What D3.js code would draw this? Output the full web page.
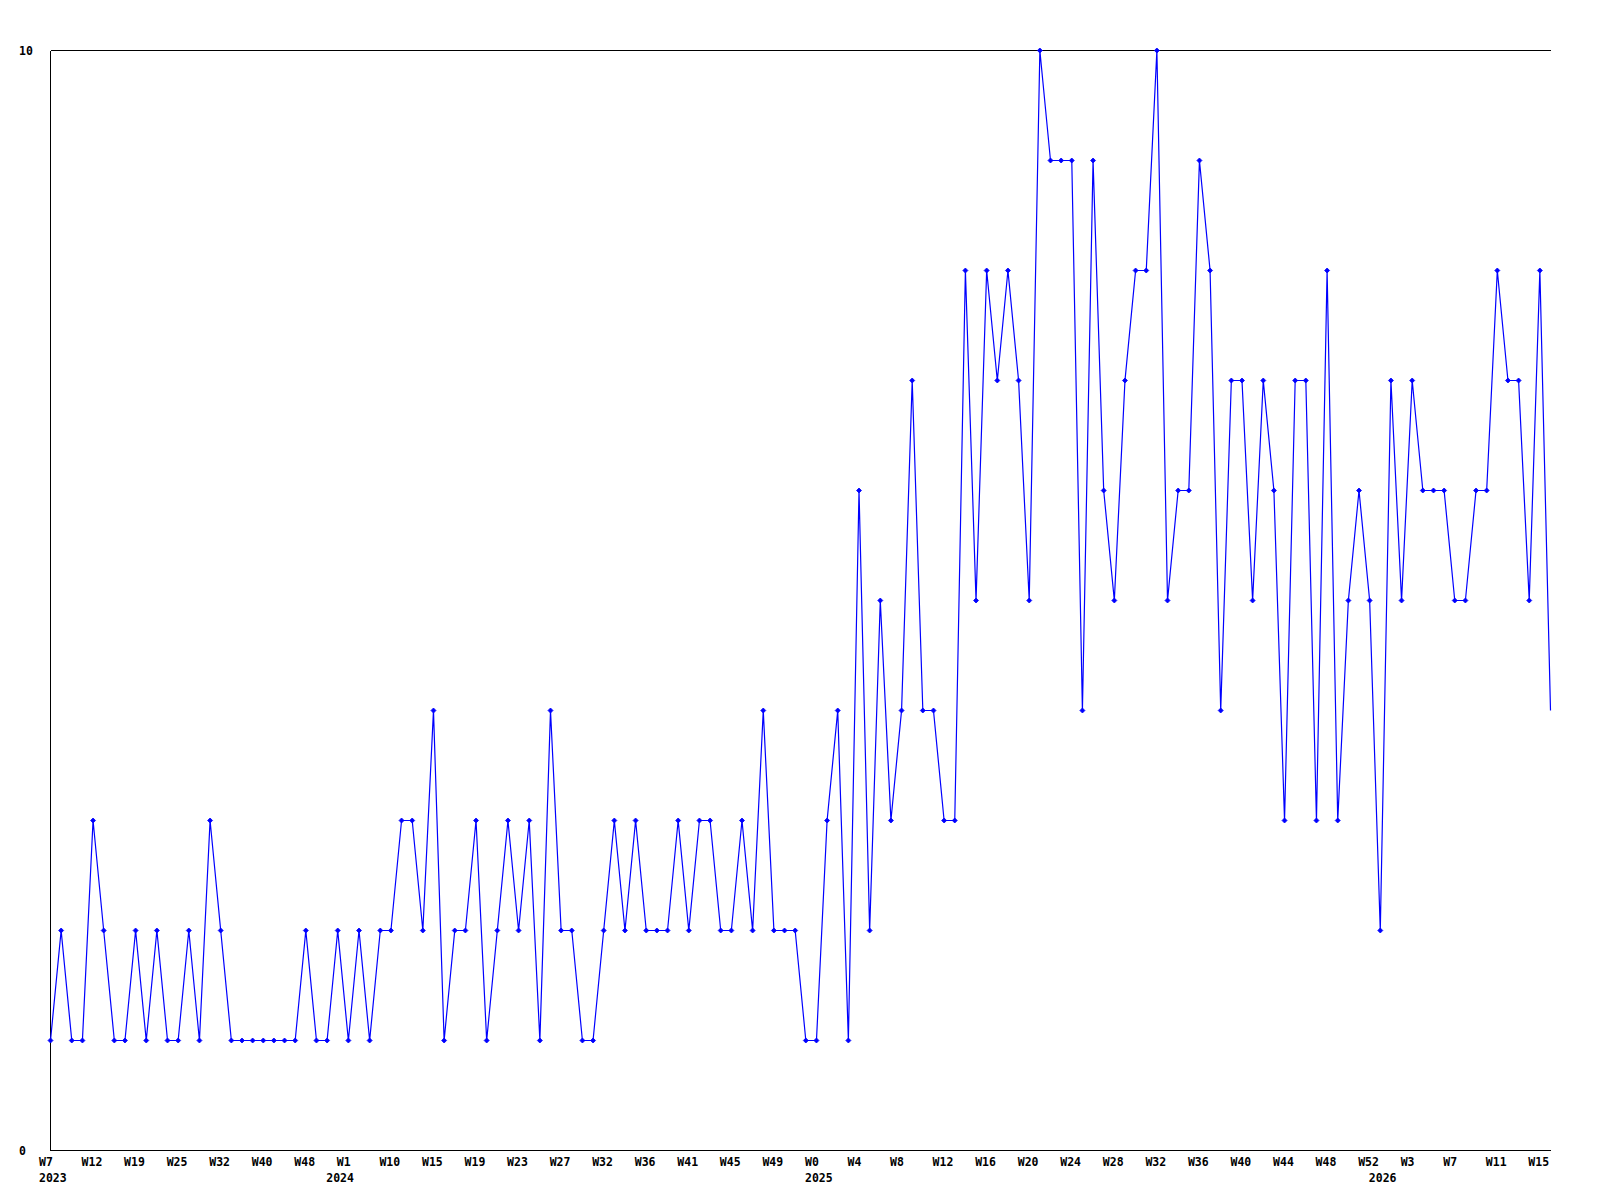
<!DOCTYPE html>
<html>
<head>
<meta charset="utf-8">
<script src="https://cdn.jsdelivr.net/npm/d3@7"></script>
<style>
  html, body { margin: 0; padding: 0; background: #ffffff; }
  svg { display: block; }
  text { font-family: "DejaVu Sans Mono", "Liberation Mono", monospace; font-weight: bold; font-size: 11.5px; fill: #000; }
</style>
</head>
<body>
<svg id="chart" width="1600" height="1200"></svg>
<script>
// ---- data ----
const values = [
  1,2,1,1,3,2,1,1,2,1,2,1,1,2,1,3,2,1,1,1,1,1,1,1,2,1,1,2,
  1,2,1,2,2,3,3,2,4,1,2,2,3,1,2,3,2,3,1,4,2,2,1,1,2,3,2,3,
  2,2,2,3,2,3,3,2,2,3,2,4,2,2,2,1,1,3,4,1,6,2,5,3,4,7,4,4,
  3,3,8,5,8,7,8,7,5,10,9,9,9,4,9,6,5,7,8,8,10,5,6,6,9,8,4,7,
  7,5,7,6,3,7,7,3,8,3,5,6,5,2,7,5,7,6,6,6,5,5,6,6,8,7,7,5,8,4
];
// week tick labels, one for every 4th point
const weekTickLabels = [
  "W7","W12","W19","W25","W32","W40","W48",
  "W1","W10","W15","W19","W23","W27","W32","W36","W41","W45","W49",
  "W0","W4","W8","W12","W16","W20","W24","W28","W32","W36","W40","W44","W48","W52",
  "W3","W7","W11","W15"
];
const tickEvery = 4;
const years = ["2023","2024","2025","2026"];
const yearStartIndex = [0, 27, 72, 125];
const yTickValues = [0, 10];

// ---- chart ----
const svg = d3.select("#chart");
const idx = d3.range(values.length);

const x = d3.scalePoint().domain(idx).range([50.5, 1550.5]);
const y = d3.scaleLinear().domain([0, 10]).range([1150.5, 50.5]);

// top reference line at max
svg.append("line")
  .attr("x1", x(0)).attr("x2", x(values.length - 1))
  .attr("y1", y(10)).attr("y2", y(10))
  .attr("stroke", "#000").attr("stroke-width", 1)
  .attr("shape-rendering", "crispEdges");

// axes lines
svg.append("line")
  .attr("x1", x(0)).attr("x2", x(0))
  .attr("y1", y(10)).attr("y2", y(0))
  .attr("stroke", "#000").attr("stroke-width", 1)
  .attr("shape-rendering", "crispEdges");
svg.append("line")
  .attr("x1", x(0)).attr("x2", x(values.length - 1))
  .attr("y1", y(0)).attr("y2", y(0))
  .attr("stroke", "#000").attr("stroke-width", 1)
  .attr("shape-rendering", "crispEdges");

// y labels
svg.selectAll("text.ylab").data(yTickValues).enter().append("text")
  .attr("class", "ylab")
  .attr("x", 19)
  .attr("y", d => y(d) + 4)
  .text(d => d);

// week labels
svg.selectAll("text.wlab").data(weekTickLabels).enter().append("text")
  .attr("class", "wlab")
  .attr("x", (d, i) => x(i * tickEvery) - 11.5)
  .attr("y", 1166)
  .text(d => d);

// year labels
svg.selectAll("text.yrlab").data(years).enter().append("text")
  .attr("class", "yrlab")
  .attr("x", (d, i) => x(yearStartIndex[i]) - 11.5)
  .attr("y", 1181.5)
  .text(d => d);

// line
const line = d3.line().x((d, i) => x(i)).y(d => y(d));
svg.append("path")
  .datum(values)
  .attr("d", line)
  .attr("fill", "none")
  .attr("stroke", "#0000ff")
  .attr("stroke-width", 1.2);

// markers (last point has no marker in the reference)
const r = 2.5;
svg.selectAll("path.mk").data(values.slice(0, values.length - 1)).enter().append("path")
  .attr("class", "mk")
  .attr("d", (d, i) => {
    const cx = x(i), cy = y(d);
    return `M${cx - r},${cy}L${cx},${cy - r}L${cx + r},${cy}L${cx},${cy + r}Z`;
  })
  .attr("fill", "#0000ff")
  .attr("stroke", "#0000ff")
  .attr("stroke-width", 0.8);
</script>
</body>
</html>
